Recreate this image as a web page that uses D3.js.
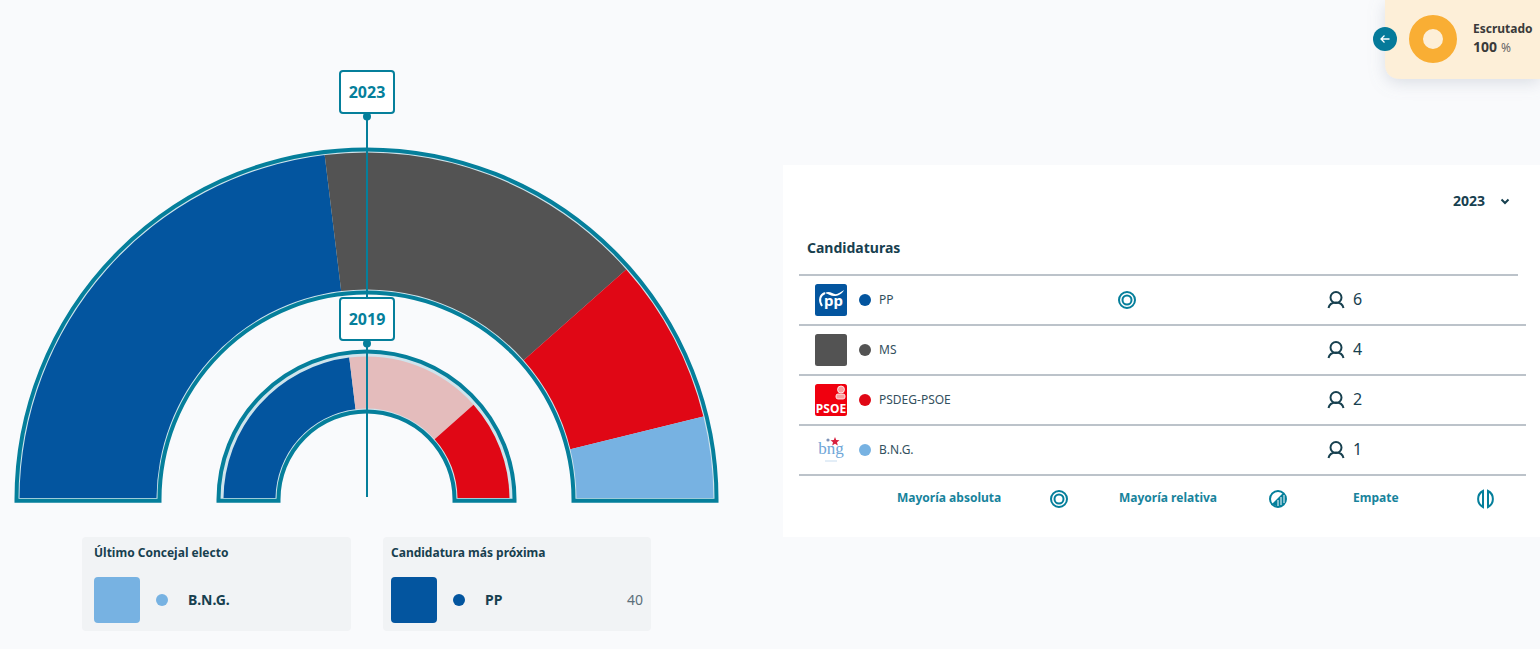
<!DOCTYPE html>
<html>
<head>
<meta charset="utf-8">
<script src="https://cdn.jsdelivr.net/npm/d3@7"></script>
<style>
  html, body { margin: 0; padding: 0; background: #f9fafc; overflow: hidden; }
  text { font-family: "Noto Sans", "Open Sans", sans-serif; }
</style>
</head>
<body>
<div id="chart"></div>
<script>
/* DATA */
const parties2023 = ["PP", "MS", "PSDEG-PSOE", "B.N.G."];
const seats2023 = [6, 4, 2, 1];
const colors2023 = ["#03559f", "#535353", "#e00715", "#77b2e2"];

const parties2019 = ["PP", "Otros", "PSDEG-PSOE"];
const seats2019 = [6, 4, 3];
const colors2019 = ["#03559f", "#e4bcbc", "#e00715"];

const lastElected = { title: "Último Concejal electo", name: "B.N.G.", color: "#77b2e2", votes: "" };
const nearest = { title: "Candidatura más próxima", name: "PP", color: "#03559f", votes: "40" };

const majorityLabels = ["Mayoría absoluta", "Mayoría relativa", "Empate"];

/* CONSTANTS */
const width = 1540, height = 649;
const cx = 366.5, cy = 499.5, baseY = 500.7;
const teal = "#057f9b", gap = "#cfe4ec", ink = "#17404f";
const rings = [
  { year: "2023", seats: seats2023, colors: colors2023, outer: 347, inner: 210, strokeOuter: 350, strokeInner: 207 },
  { year: "2019", seats: seats2019, colors: colors2019, outer: 143, inner: 91, strokeOuter: 148, strokeInner: 88 }
];

const svg = d3.select("#chart").append("svg")
  .attr("width", width)
  .attr("height", height)
  .attr("viewBox", `0 0 ${width} ${height}`)
  .style("display", "block");

const defs = svg.append("defs");
defs.append("clipPath").attr("id", "baseClip")
  .append("rect").attr("x", 0).attr("y", 0).attr("width", width).attr("height", 498);
const blur = defs.append("filter").attr("id", "cardShadow")
  .attr("x", "-20%").attr("y", "-30%").attr("width", "140%").attr("height", "170%");
blur.append("feDropShadow").attr("dx", 0).attr("dy", 4).attr("stdDeviation", 8)
  .attr("flood-color", "#8a94a6").attr("flood-opacity", 0.28);

/* HEMICYCLE */
const pie = d3.pie().sort(null).startAngle(-Math.PI / 2).endAngle(Math.PI / 2);

// frame outline, its feet sit a little below the centre of the arcs
function framePath(ro, ri) {
  const p = d3.path();
  p.moveTo(cx - ro, baseY);
  p.lineTo(cx - ro, cy);
  p.arc(cx, cy, ro, Math.PI, 2 * Math.PI);
  p.lineTo(cx + ro, baseY);
  p.lineTo(cx + ri, baseY);
  p.lineTo(cx + ri, cy);
  p.arc(cx, cy, ri, 2 * Math.PI, Math.PI, true);
  p.lineTo(cx - ri, baseY);
  p.closePath();
  return p.toString();
}

rings.forEach(r => {
  svg.append("path")
    .attr("d", framePath(r.strokeOuter, r.strokeInner))
    .attr("fill", gap)
    .attr("stroke", teal)
    .attr("stroke-width", 4);

  const arc = d3.arc().innerRadius(r.inner).outerRadius(r.outer);
  svg.append("g")
    .attr("clip-path", "url(#baseClip)")
    .append("g")
    .attr("transform", `translate(${cx},${cy})`)
    .selectAll("path")
    .data(pie(r.seats))
    .enter()
    .append("path")
    .attr("d", arc)
    .attr("fill", (d, i) => r.colors[i]);
});

// axis line and year tags
svg.append("line")
  .attr("x1", 367).attr("x2", 367)
  .attr("y1", 116).attr("y2", 497)
  .attr("stroke", teal).attr("stroke-width", 2);

[{ year: "2023", top: 71 }, { year: "2019", top: 298 }].forEach(t => {
  svg.append("circle").attr("cx", 367).attr("cy", t.top + 45.5).attr("r", 4).attr("fill", teal);
  svg.append("rect")
    .attr("x", 340).attr("y", t.top)
    .attr("width", 54).attr("height", 42).attr("rx", 3)
    .attr("fill", "#fff").attr("stroke", teal).attr("stroke-width", 2);
  svg.append("text")
    .attr("x", 367).attr("y", t.top + 27)
    .attr("text-anchor", "middle")
    .attr("font-size", 16).attr("font-weight", 700)
    .attr("fill", teal)
    .text(t.year);
});

/* BOTTOM CARDS */
[{ d: lastElected, x: 82, w: 269, pad: 12 }, { d: nearest, x: 383, w: 268, pad: 8 }].forEach(c => {
  const card = svg.append("g").attr("transform", `translate(${c.x},537)`);
  card.append("rect").attr("width", c.w).attr("height", 94).attr("rx", 4).attr("fill", "#f1f3f5");
  card.append("text").attr("x", c.pad).attr("y", 20)
    .attr("font-size", 12).attr("font-weight", 700).attr("fill", ink).text(c.d.title);
  card.append("rect").attr("x", c.pad).attr("y", 40).attr("width", 46).attr("height", 46).attr("rx", 4).attr("fill", c.d.color);
  card.append("circle").attr("cx", c.pad + 68).attr("cy", 63).attr("r", 6).attr("fill", c.d.color);
  card.append("text").attr("x", c.pad + 94).attr("y", 68)
    .attr("font-size", 14).attr("font-weight", 700).attr("fill", ink).text(c.d.name);
  if (c.d.votes) {
    card.append("text").attr("x", c.w - 8).attr("y", 68).attr("text-anchor", "end")
      .attr("font-size", 14).attr("fill", "#5c6f7a").text(c.d.votes);
  }
});

/* TABLE PANEL */
svg.append("rect").attr("x", 783).attr("y", 165).attr("width", 757).attr("height", 372).attr("fill", "#fff");

svg.append("text").attr("x", 1453).attr("y", 206)
  .attr("font-size", 14).attr("font-weight", 700).attr("fill", ink).text("2023");
svg.append("path").attr("d", "M1501.5 199.5l3.5 3.5 3.5-3.5")
  .attr("fill", "none").attr("stroke", ink).attr("stroke-width", 2);
svg.append("text").attr("x", 807).attr("y", 253)
  .attr("font-size", 14).attr("font-weight", 700).attr("fill", ink).text("Candidaturas");

svg.append("line").attr("x1", 799).attr("x2", 1518).attr("y1", 275).attr("y2", 275)
  .attr("stroke", "#bcc3ca").attr("stroke-width", 2);

const rowY = d3.scaleBand().domain(parties2023).range([275, 475]);

const rows = svg.selectAll(".row")
  .data(parties2023)
  .enter()
  .append("g")
  .attr("class", "row")
  .attr("transform", d => `translate(0,${rowY(d)})`);

rows.append("line").attr("x1", 799).attr("x2", 1526)
  .attr("y1", rowY.bandwidth()).attr("y2", rowY.bandwidth())
  .attr("stroke", "#bcc3ca").attr("stroke-width", 2);

rows.append("circle").attr("cx", 865).attr("cy", 25).attr("r", 6)
  .attr("fill", (d, i) => colors2023[i]);
rows.append("text").attr("x", 879).attr("y", 29)
  .attr("font-size", 12).attr("fill", "#33505e").text(d => d);
rows.append("text").attr("x", 1353).attr("y", 30)
  .attr("font-size", 16).attr("fill", ink).text((d, i) => seats2023[i]);

// person icon
rows.append("circle").attr("cx", 1336).attr("cy", 22.5).attr("r", 5.5)
  .attr("fill", "none").attr("stroke", ink).attr("stroke-width", 2);
rows.append("path").attr("d", "M1328.5 33c1-4.5 3.5-5.500 7.500-5.500s6.500 1 7.500 5.500")
  .attr("fill", "none").attr("stroke", ink).attr("stroke-width", 2);

// logos
const logo = rows.append("g").attr("transform", "translate(815,9)");
logo.filter(d => d !== "B.N.G.")
  .append("rect").attr("width", 32).attr("height", 32).attr("rx", 2.5)
  .attr("fill", (d, i) => ["#03559f", "#535353", "#f0000f"][i]);

const ppLogo = logo.filter(d => d === "PP");
ppLogo.append("text").attr("x", 18.5).attr("y", 22).attr("text-anchor", "middle")
  .attr("font-size", 15).attr("font-weight", 700).attr("fill", "#fff").text("pp");
ppLogo.append("path").attr("d", "M7 22C3.500 16 5 11 10 9")
  .attr("fill", "none").attr("stroke", "#fff").attr("stroke-width", 2);
ppLogo.append("path").attr("d", "M10 9C15 6 18 11 22 10C25 9 27 7 29 6C27 10 23 12 19 12C16 12 14 10 10 9Z")
  .attr("fill", "#fff");

const psoeLogo = logo.filter(d => d === "PSDEG-PSOE");
psoeLogo.append("text").attr("x", 16).attr("y", 29).attr("text-anchor", "middle")
  .attr("font-size", 12).attr("font-weight", 700).attr("fill", "#fff").text("PSOE");
psoeLogo.append("circle").attr("cx", 26).attr("cy", 5.5).attr("r", 3.5)
  .attr("fill", "#f8a0a0").attr("stroke", "#fff").attr("stroke-width", 0.8);
psoeLogo.append("rect").attr("x", 21).attr("y", 10).attr("width", 9).attr("height", 5).attr("rx", 2)
  .attr("fill", "#f8a0a0").attr("stroke", "#fff").attr("stroke-width", 0.8);

const bngLogo = logo.filter(d => d === "B.N.G.");
bngLogo.append("text").attr("x", 16).attr("y", 20).attr("text-anchor", "middle")
  .attr("font-size", 17).attr("fill", "#6fa6d8")
  .style("font-family", "'Liberation Serif', serif")
  .text("bng");
bngLogo.append("path").attr("d", "M20 3l1.200 3 3.300 .3-2.500 2 .8 3.200-2.800-1.700-2.800 1.700 .8-3.200-2.500-2 3.300-.3z")
  .attr("fill", "#d8213f");
bngLogo.append("circle").attr("cx", 13).attr("cy", 6).attr("r", 1.6).attr("fill", "#7d93b8");
bngLogo.append("line").attr("x1", 10).attr("x2", 22).attr("y1", 27).attr("y2", 27)
  .attr("stroke", "#c7dcef").attr("stroke-width", 1);

// mayoria absoluta mark on the winning row
function ringIcon(sel, x, y) {
  sel.append("circle").attr("cx", x).attr("cy", y).attr("r", 8).attr("fill", "none").attr("stroke", teal).attr("stroke-width", 2);
  sel.append("circle").attr("cx", x).attr("cy", y).attr("r", 4.5).attr("fill", "none").attr("stroke", teal).attr("stroke-width", 2);
}
ringIcon(svg, 1127, 300);

// key under the table
const keyX = [897, 1119, 1353];
svg.selectAll(".key")
  .data(majorityLabels)
  .enter()
  .append("text")
  .attr("class", "key")
  .attr("x", (d, i) => keyX[i])
  .attr("y", 502)
  .attr("font-size", 12).attr("font-weight", 700)
  .attr("fill", "#17839c")
  .text(d => d);

ringIcon(svg, 1059, 499);

const rel = svg.append("g").attr("transform", "translate(1278,499)");
rel.append("circle").attr("r", 8).attr("fill", "none").attr("stroke", teal).attr("stroke-width", 2);
rel.append("path").attr("d", "M-6 5L5 -6A8 8 0 0 1 5 6L0 8z").attr("fill", teal);
rel.append("path").attr("d", "M0 7V1M3 6V-2M6 4V-4").attr("stroke", "#fff").attr("stroke-width", 1);

const tie = svg.append("g").attr("transform", "translate(1486,499)")
  .attr("fill", "none").attr("stroke", teal).attr("stroke-width", 2);
tie.append("path").attr("d", "M-3 -8A9 9 0 0 0 -3 8z");
tie.append("path").attr("d", "M2 -8A9 9 0 0 1 2 8z");

/* ESCRUTADO */
svg.append("path")
  .attr("d", "M1385 0H1540V79H1401Q1385 79 1385 63Z")
  .attr("fill", "#fdefd8")
  .attr("filter", "url(#cardShadow)");
svg.append("circle").attr("cx", 1385).attr("cy", 39).attr("r", 12).attr("fill", "#057a9a");
svg.append("path").attr("d", "M1389.500 39h-8.500M1384.500 35.500l-3.500 3.500 3.500 3.500")
  .attr("fill", "none").attr("stroke", "#fff").attr("stroke-width", 1.300);
const donut = d3.arc().innerRadius(10).outerRadius(24);
svg.append("g").attr("transform", "translate(1433,39)")
  .selectAll("path")
  .data(d3.pie()([100]))
  .enter()
  .append("path")
  .attr("d", donut)
  .attr("fill", "#f9ae34");
svg.append("text").attr("x", 1473).attr("y", 33)
  .attr("font-size", 12).attr("font-weight", 700).attr("fill", "#3a3a3a").text("Escrutado");
const pct = svg.append("text").attr("x", 1473).attr("y", 52).attr("fill", "#3a3a3a");
pct.append("tspan").attr("font-size", 14).attr("font-weight", 700).text("100");
pct.append("tspan").attr("font-size", 12).attr("dx", 4).attr("fill", "#666").text("%");
</script>
</body>
</html>
